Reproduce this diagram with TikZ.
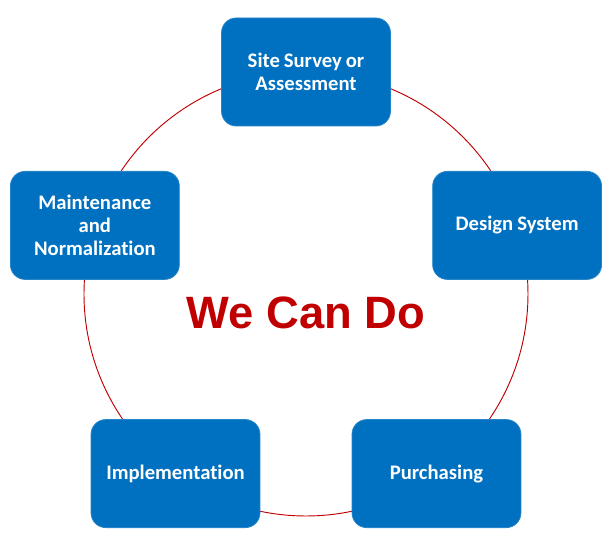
\documentclass[tikz,border=0pt]{standalone}
\usepackage{fontspec}
\setmainfont[Ligatures=NoCommon, WordSpace=0.85]{Carlito}
\newfontfamily\arialfont{Liberation Sans}
\usetikzlibrary{positioning}
\definecolor{boxblue}{HTML}{0070C0}
\definecolor{ringred}{HTML}{C00000}
\tikzstyle{stage} = [rectangle, rounded corners=11pt, minimum width=126pt, minimum height=81pt, text width=120pt, align=flush center, draw=boxblue!85!white, line width=0.6pt, fill=boxblue, text=white, font=\fontsize{15.5}{17}\selectfont\bfseries]
\tikzstyle{ring} = [ringred, line width=0.7pt]

\begin{document}
\begin{tikzpicture}[x=0.75pt, y=0.75pt]
\useasboundingbox (-306,-256) rectangle (306,294);

\coordinate (hub) at (0,0);
\draw [ring] (hub) circle [radius=166.5pt];

\node (survey) [stage] at (90:222) {Site Survey or\\Assessment};
\node (design) [stage] at (18:222) {Design System};
\node (purchase) [stage] at (-54:222) {Purchasing};
\node (implement) [stage] at (-126:222) {Implementation};
\node (maintain) [stage] at (162:222) {Maintenance\\and\\Normalization};

\node (motto) [text=ringred, font=\arialfont\fontsize{34}{36}\selectfont\bfseries] at (0,-19) {We Can Do};

\end{tikzpicture}
\end{document}
